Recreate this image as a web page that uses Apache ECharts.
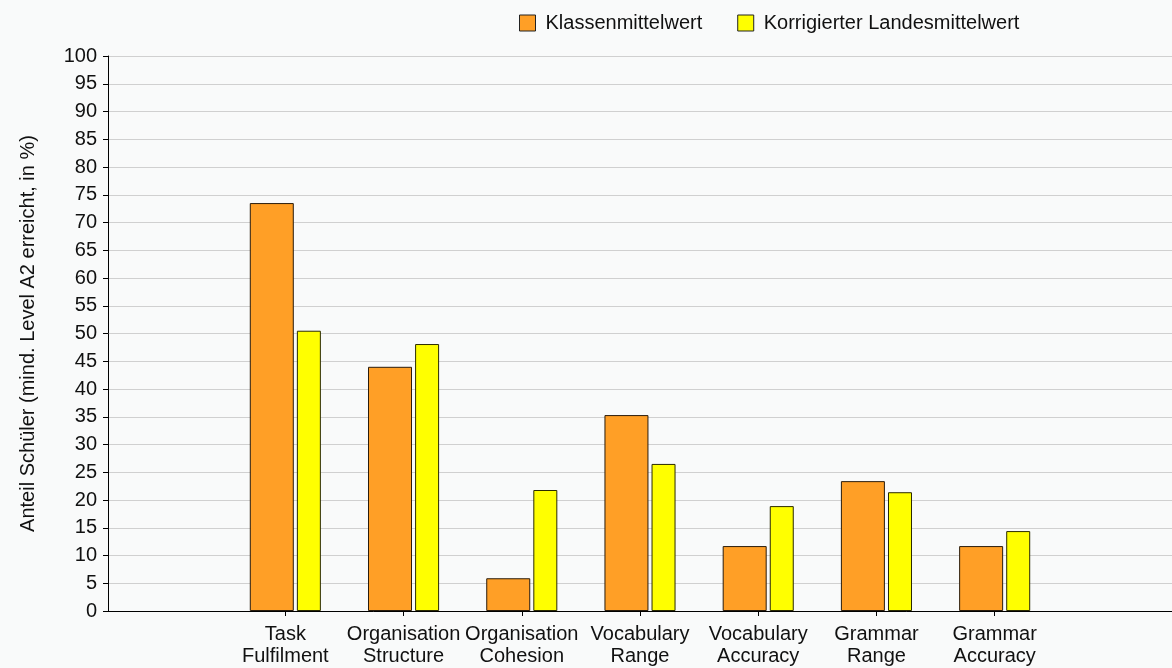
<!DOCTYPE html>
<html>
<head>
<meta charset="utf-8">
<script src="https://cdn.jsdelivr.net/npm/echarts@6/dist/echarts.min.js"></script>
<style>
  html, body { margin: 0; padding: 0; background: #f9fafa; }
  #chart { width: 1172px; height: 668px; }
</style>
</head>
<body>
<div id="chart"></div>
<script>
// leere Kategorien links und rechts wie im Original
var categories = ['', 'Task\nFulfilment', 'Organisation\nStructure', 'Organisation\nCohesion',
    'Vocabulary\nRange', 'Vocabulary\nAccuracy', 'Grammar\nRange', 'Grammar\nAccuracy', ''];
var klasse = [null, 73.5, 44.0, 5.9, 35.3, 11.7, 23.4, 11.7, null];
var land = [null, 50.5, 48.1, 21.8, 26.5, 18.9, 21.4, 14.4, null];

var myChart = echarts.init(document.getElementById('chart'));
var option = {
    backgroundColor: '#f9fafa',
    textStyle: { fontFamily: 'Liberation Sans', color: '#111' },
    legend: {
        left: 514,
        top: 8,
        icon: 'rect',
        itemWidth: 16,
        itemHeight: 16,
        itemGap: 35,
        itemStyle: { borderColor: '#222', borderWidth: 1 },
        textStyle: { fontSize: 20, color: '#111', padding: [0, 0, 0, 5] },
        data: ['Klassenmittelwert', 'Korrigierter Landesmittelwert']
    },
    grid: { left: 108, right: 0, top: 56, bottom: 57 },
    xAxis: {
        type: 'category',
        data: categories,
        axisLine: { lineStyle: { color: '#000', width: 1 } },
        axisTick: {
            show: true,
            alignWithLabel: true,
            length: 5,
            interval: function (i, v) { return v !== ''; },
            lineStyle: { color: '#000' }
        },
        axisLabel: { interval: 0, fontSize: 20, lineHeight: 22, color: '#111', margin: 12 }
    },
    yAxis: {
        type: 'value',
        min: 0,
        max: 100,
        interval: 5,
        name: 'Anteil Schüler (mind. Level A2 erreicht, in %)',
        nameLocation: 'middle',
        nameGap: 70,
        nameTextStyle: { fontSize: 20, color: '#111' },
        axisLine: { show: true, lineStyle: { color: '#000', width: 1 } },
        axisTick: { show: true, inside: false, length: 5, lineStyle: { color: '#000', width: 1 } },
        axisLabel: { fontSize: 20, color: '#111', margin: 11 },
        splitLine: { lineStyle: { color: '#d0d0d0', width: 1 } }
    },
    series: [
        {
            name: 'Klassenmittelwert',
            type: 'bar',
            data: klasse,
            barWidth: 44,
            barGap: '7%',
            itemStyle: { color: '#ff9f26', borderColor: '#2a1c0c', borderWidth: 1 }
        },
        {
            name: 'Korrigierter Landesmittelwert',
            type: 'bar',
            data: land,
            barWidth: 24,
            itemStyle: { color: '#ffff00', borderColor: '#2a2a00', borderWidth: 1 }
        }
    ]
};
myChart.setOption(option);
</script>
</body>
</html>
